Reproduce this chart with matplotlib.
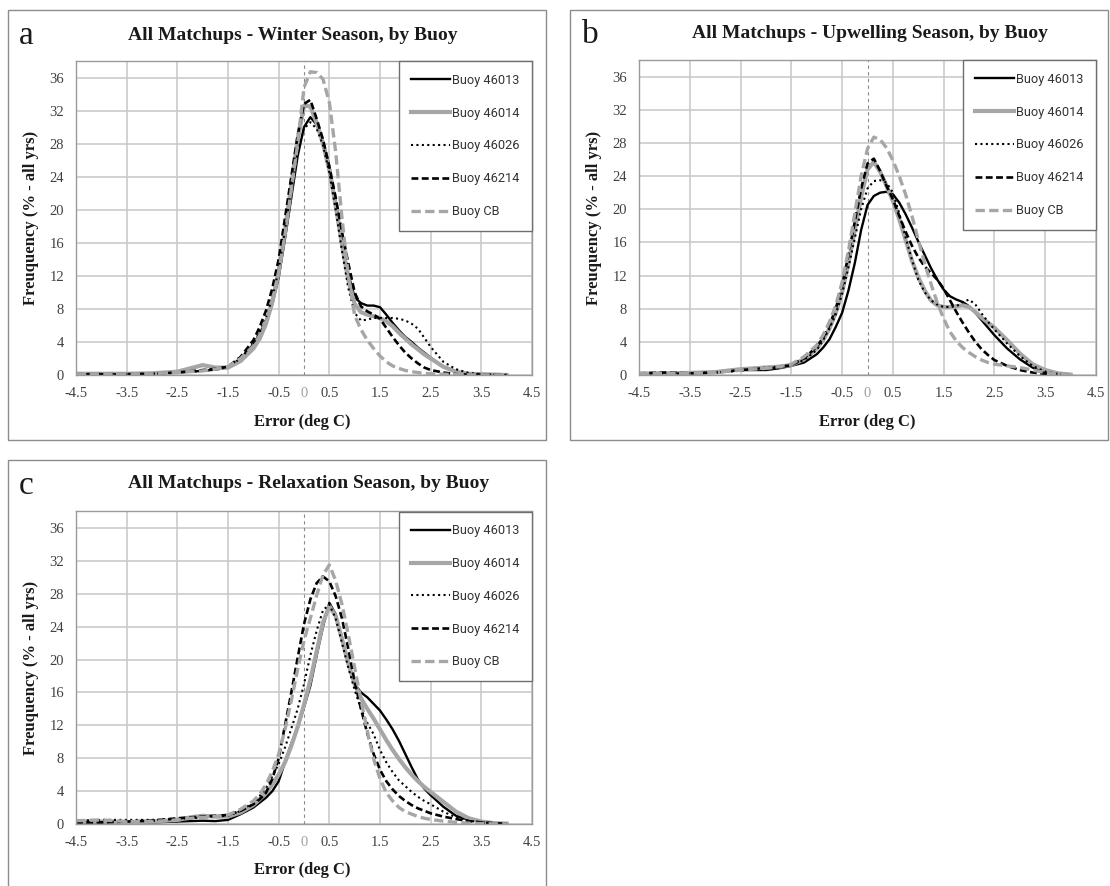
import numpy as np
import matplotlib
matplotlib.use("Agg")
import matplotlib.pyplot as plt
from matplotlib.patches import Rectangle

# ---- data -------------------------------------------------------------
error_x = [-4.5, -4.0, -3.5, -3.0, -2.5, -2.25, -2.0, -1.75, -1.5, -1.25,
           -1.0, -0.875, -0.75, -0.625, -0.5, -0.375, -0.25, -0.125, 0.0,
           0.125, 0.25, 0.375, 0.5, 0.625, 0.75, 0.875, 1.0, 1.125, 1.25,
           1.375, 1.5, 1.625, 1.75, 1.875, 2.0, 2.125, 2.25, 2.375, 2.5,
           2.75, 3.0, 3.25, 3.5, 3.75, 4.0]

buoys = ["Buoy 46013", "Buoy 46014", "Buoy 46026", "Buoy 46214", "Buoy CB"]

winter_46013 = [0.1, 0.1, 0.1, 0.15, 0.3, 0.4, 0.5, 0.65, 0.9, 2.0,
                3.7, 5.0, 6.6, 8.6, 11.8, 16.5, 21.5, 26.5, 30.0,
                31.2, 30.3, 28.3, 25.3, 21.0, 16.3, 12.2, 9.4, 8.7, 8.4,
                8.4, 8.2, 7.3, 6.3, 5.4, 4.6, 4.0, 3.3, 2.7, 2.1,
                1.0, 0.4, 0.15, 0.05, 0.02, 0.0]
winter_46014 = [0.15, 0.15, 0.15, 0.2, 0.4, 0.8, 1.2, 0.9, 0.9, 1.7,
                3.2, 4.4, 6.2, 8.8, 12.5, 17.5, 23.0, 28.5, 32.6,
                32.5, 30.5, 28.0, 24.8, 20.5, 15.8, 11.5, 8.6, 7.6, 7.3,
                7.1, 6.9, 6.5, 5.9, 5.1, 4.4, 3.7, 3.1, 2.5, 2.0,
                1.0, 0.4, 0.15, 0.1, 0.05, 0.0]
winter_46026 = [0.1, 0.1, 0.1, 0.15, 0.3, 0.4, 0.5, 0.7, 1.0, 2.0,
                3.8, 5.2, 7.0, 9.3, 12.8, 17.5, 22.5, 27.0, 29.8,
                30.6, 29.8, 27.8, 24.5, 20.0, 15.0, 10.5, 7.5, 6.6, 6.7,
                6.9, 6.9, 6.9, 6.9, 6.8, 6.6, 6.2, 5.6, 4.5, 3.4,
                1.6, 0.7, 0.25, 0.1, 0.05, 0.0]
winter_46214 = [0.1, 0.1, 0.1, 0.15, 0.3, 0.45, 0.6, 0.75, 1.0, 2.2,
                4.2, 5.8, 7.8, 10.5, 14.0, 19.0, 24.0, 29.0, 32.8,
                33.3, 31.0, 28.5, 25.2, 21.5, 17.3, 13.5, 10.0, 8.3, 7.7,
                7.3, 6.8, 5.7, 4.6, 3.6, 2.7, 2.0, 1.4, 0.9, 0.6,
                0.3, 0.1, 0.05, 0.05, 0.02, 0.0]
winter_cb = [0.1, 0.1, 0.1, 0.15, 0.3, 0.4, 0.5, 0.7, 1.0, 2.0,
             3.5, 4.8, 6.5, 9.0, 12.5, 17.0, 22.5, 28.0, 34.8,
             36.7, 36.6, 35.8, 33.0, 27.0, 19.0, 12.0, 7.2, 5.5, 4.2,
             3.2, 2.3, 1.6, 1.1, 0.8, 0.55, 0.4, 0.3, 0.2, 0.15,
             0.1, 0.05, 0.02, 0.02, 0.0, 0.0]

upwelling_46013 = [0.15, 0.2, 0.2, 0.3, 0.6, 0.6, 0.6, 0.8, 1.1, 1.5,
                   2.5, 3.3, 4.3, 5.8, 7.5, 10.2, 13.5, 17.5, 20.5,
                   21.6, 22.0, 22.1, 21.8, 20.8, 19.4, 17.8, 16.1, 14.5, 12.9,
                   11.5, 10.3, 9.5, 9.1, 8.8, 8.3, 7.5, 6.6, 5.7, 4.8,
                   3.2, 1.9, 0.9, 0.35, 0.1, 0.05]
upwelling_46014 = [0.15, 0.2, 0.25, 0.35, 0.7, 0.8, 0.9, 1.0, 1.2, 1.9,
                   3.2, 4.2, 5.6, 7.5, 10.0, 13.5, 17.5, 21.5, 24.8,
                   25.7, 24.5, 22.8, 21.0, 18.8, 16.3, 13.8, 11.8, 10.2, 9.0,
                   8.4, 8.2, 8.2, 8.3, 8.4, 8.2, 7.6, 6.9, 6.3, 5.7,
                   4.2, 2.6, 1.3, 0.6, 0.2, 0.05]
upwelling_46026 = [0.2, 0.2, 0.2, 0.3, 0.5, 0.7, 0.9, 1.0, 1.2, 1.8,
                   3.0, 4.2, 5.6, 7.3, 9.8, 13.0, 16.5, 20.0, 22.5,
                   23.4, 23.5, 23.2, 22.0, 19.5, 16.6, 13.9, 11.5, 10.0, 9.0,
                   8.5, 8.2, 8.2, 8.3, 8.8, 9.1, 8.5, 7.4, 6.4, 5.5,
                   3.8, 2.3, 1.1, 0.4, 0.15, 0.05]
upwelling_46214 = [0.2, 0.3, 0.2, 0.3, 0.6, 0.7, 0.8, 0.9, 1.2, 2.0,
                   3.4, 4.5, 6.0, 8.0, 10.8, 14.5, 18.5, 22.5, 25.5,
                   26.1, 24.6, 22.8, 21.2, 19.2, 17.3, 15.6, 14.2, 13.1, 12.3,
                   11.5, 10.4, 9.0, 7.6, 6.3, 5.1, 4.0, 3.1, 2.4, 1.8,
                   1.1, 0.6, 0.3, 0.15, 0.05, 0.0]
upwelling_cb = [0.2, 0.2, 0.2, 0.3, 0.6, 0.7, 0.8, 1.0, 1.3, 2.2,
                3.6, 4.8, 6.4, 8.4, 11.2, 15.0, 19.5, 24.0, 27.3,
                28.7, 28.4, 27.4, 25.9, 24.0, 21.8, 19.2, 16.3, 13.5, 11.0,
                8.7, 6.8, 5.2, 4.1, 3.3, 2.7, 2.2, 1.8, 1.5, 1.3,
                1.1, 0.9, 0.6, 0.3, 0.1, 0.0]

relax_46013 = [0.2, 0.2, 0.2, 0.2, 0.3, 0.35, 0.4, 0.35, 0.5, 1.2,
               2.0, 2.6, 3.2, 4.0, 5.2, 7.5, 9.8, 11.7, 14.2,
               16.8, 20.5, 24.0, 26.9, 25.5, 22.5, 19.5, 17.0, 16.0, 15.4,
               14.6, 13.8, 12.7, 11.5, 10.1, 8.5, 6.9, 5.4, 4.3, 3.5,
               2.1, 1.0, 0.5, 0.25, 0.1, 0.05]
relax_46014 = [0.3, 0.3, 0.2, 0.3, 0.5, 0.8, 1.0, 0.9, 0.9, 1.4,
               2.3, 3.0, 3.8, 4.8, 6.0, 7.5, 9.5, 11.8, 14.5,
               17.5, 21.0, 24.5, 26.5, 25.3, 22.5, 19.5, 17.0, 15.3, 14.0,
               12.8, 11.5, 10.2, 9.0, 7.9, 6.9, 6.0, 5.2, 4.5, 3.9,
               2.7, 1.5, 0.7, 0.3, 0.1, 0.05]
relax_46026 = [0.4, 0.5, 0.5, 0.5, 0.6, 0.7, 0.8, 0.9, 1.0, 1.6,
               2.6, 3.4, 4.4, 5.8, 7.3, 9.3, 11.6, 14.0, 17.0,
               20.5, 23.5, 26.0, 26.7, 25.0, 22.0, 19.0, 16.3, 14.0, 12.3,
               10.9, 9.0, 7.5, 6.3, 5.3, 4.6, 3.9, 3.3, 2.8, 2.4,
               1.5, 0.8, 0.4, 0.2, 0.1, 0.05]
relax_46214 = [0.2, 0.2, 0.3, 0.4, 0.7, 0.8, 0.9, 1.0, 1.1, 1.6,
               2.4, 3.0, 3.8, 5.5, 8.0, 12.0, 16.0, 20.2, 24.3,
               27.3, 29.3, 30.1, 29.5, 27.7, 25.0, 21.3, 17.3, 14.0, 11.0,
               8.5, 6.6, 5.2, 4.2, 3.4, 2.8, 2.3, 1.9, 1.6, 1.3,
               0.9, 0.6, 0.35, 0.2, 0.1, 0.0]
relax_cb = [0.4, 0.5, 0.3, 0.3, 0.5, 0.7, 0.8, 0.9, 1.1, 1.8,
            2.8, 3.6, 4.8, 6.4, 8.5, 11.5, 15.0, 18.8, 22.3,
            25.0, 27.8, 30.3, 31.5, 29.6, 26.7, 23.0, 19.0, 15.0, 11.3,
            7.9, 5.5, 3.8, 2.8, 2.0, 1.5, 1.2, 0.9, 0.7, 0.55,
            0.35, 0.2, 0.1, 0.05, 0.02, 0.0]

x_ticks = [-4.5, -3.5, -2.5, -1.5, -0.5, 0.5, 1.5, 2.5, 3.5, 4.5]
x_tick_labels = ["-4.5", "-3.5", "-2.5", "-1.5", "-0.5", "0.5", "1.5", "2.5", "3.5", "4.5"]
y_ticks = [0, 4, 8, 12, 16, 20, 24, 28, 32, 36]

panels = [
    ("a", "All Matchups - Winter Season, by Buoy",
     [winter_46013, winter_46014, winter_46026, winter_46214, winter_cb]),
    ("b", "All Matchups - Upwelling Season, by Buoy",
     [upwelling_46013, upwelling_46014, upwelling_46026, upwelling_46214, upwelling_cb]),
    ("c", "All Matchups - Relaxation Season, by Buoy",
     [relax_46013, relax_46014, relax_46026, relax_46214, relax_cb]),
]

# ---- styling ----------------------------------------------------------
SERIF = "Liberation Serif"
SANS = "Roboto"
line_styles = [
    dict(color="black", lw=1.7, ls="-"),
    dict(color="#a6a6a6", lw=3.0, ls="-"),
    dict(color="black", lw=1.5, ls=(0, (1, 1.6))),
    dict(color="black", lw=1.9, ls=(0, (2.6, 1.3))),
    dict(color="#a6a6a6", lw=2.4, ls=(0, (2.8, 1.3))),
]

W, H = 1110, 886
fig = plt.figure(figsize=(W / 100, H / 100), dpi=100)


def fx(px):
    return px / W


def fy(py):
    return 1 - py / H


# pixel layout: frame box, plot box, title centre, letter centre, labels
layout = [
    dict(frame=(8, 10, 546, 440), plot=(76, 61, 532, 375), title=(293, 35),
         letter=(26, 36), ylab=(31, 218), xlab=(302, 422)),
    dict(frame=(570, 10, 1108, 440), plot=(639, 60, 1096, 375), title=(870, 34),
         letter=(590, 35), ylab=(594, 218), xlab=(867, 422)),
    dict(frame=(8, 460, 546, 900), plot=(76, 511.5, 532, 824), title=(309, 484),
         letter=(26, 486), ylab=(31, 668), xlab=(302, 870)),
]

for (letter, title, series), lay in zip(panels, layout):
    x0, y0, x1, y1 = lay["frame"]
    fig.patches.append(Rectangle((fx(x0), fy(y1)), fx(x1) - fx(x0), fy(y0) - fy(y1),
                                 transform=fig.transFigure, fill=False,
                                 edgecolor="#8c8c8c", lw=1.0))
    l, t, r, b = lay["plot"]
    ax = fig.add_axes([fx(l), fy(b), fx(r) - fx(l), fy(t) - fy(b)])
    ax.set_xlim(-4.5, 4.5)
    ax.set_ylim(0, 38)
    ax.set_xticks(x_ticks, labels=x_tick_labels)
    ax.set_xticks([0], labels=["0"], minor=True)
    ax.set_yticks(y_ticks, labels=[str(v) for v in y_ticks])
    ax.grid(True, which="major", color="#c6c6c6", lw=1.1)
    ax.set_axisbelow(True)
    ax.tick_params(which="both", length=0, labelsize=10.5, colors="#404040")
    ax.tick_params(axis="x", which="both", pad=8.5)
    ax.tick_params(axis="y", pad=8.5)
    ax.tick_params(axis="x", which="minor", labelcolor="#a0a0a0")
    for lab in ax.get_xticklabels(which="both") + ax.get_yticklabels():
        lab.set_fontfamily(SERIF)
    for sp in ax.spines.values():
        sp.set_color("#9a9a9a")
        sp.set_linewidth(1.0)
    ax.axvline(0, color="#8a8a8a", lw=0.8, ls=(0, (3, 3)), zorder=1.5)

    handles = []
    for name, ys, st in zip(buoys, series, line_styles):
        h, = ax.plot(error_x, ys, color=st["color"], lw=st["lw"], ls=st["ls"],
                     label=name, solid_joinstyle="round", dash_capstyle="butt")
        handles.append(h)

    leg = ax.legend(handles=handles, loc="upper right", bbox_to_anchor=(1, 1),
                    borderaxespad=0, fancybox=False, framealpha=1,
                    edgecolor="#6e6e6e", prop=dict(family=SANS, size=9.2),
                    handlelength=3.0, handletextpad=0.15, labelspacing=1.55,
                    borderpad=1.0)
    leg.get_frame().set_linewidth(1.0)
    for txt in leg.get_texts():
        txt.set_color("#333333")

    fig.text(fx(lay["title"][0]), fy(lay["title"][1]), title, ha="center", va="center",
             family=SERIF, weight="bold", size=14, color="#1a1a1a")
    fig.text(fx(lay["letter"][0]), fy(lay["letter"][1]), letter, ha="center", va="center",
             family=SERIF, size=24, color="#1a1a1a")
    fig.text(fx(lay["ylab"][0]), fy(lay["ylab"][1]), "Freuquency (% - all yrs)",
             rotation=90, ha="center", va="center", family=SERIF, weight="bold",
             size=12, color="#1a1a1a")
    fig.text(fx(lay["xlab"][0]), fy(lay["xlab"][1]), "Error (deg C)", ha="center",
             va="center", family=SERIF, weight="bold", size=12, color="#1a1a1a")

fig.savefig("out.png", dpi=100, facecolor="white")
